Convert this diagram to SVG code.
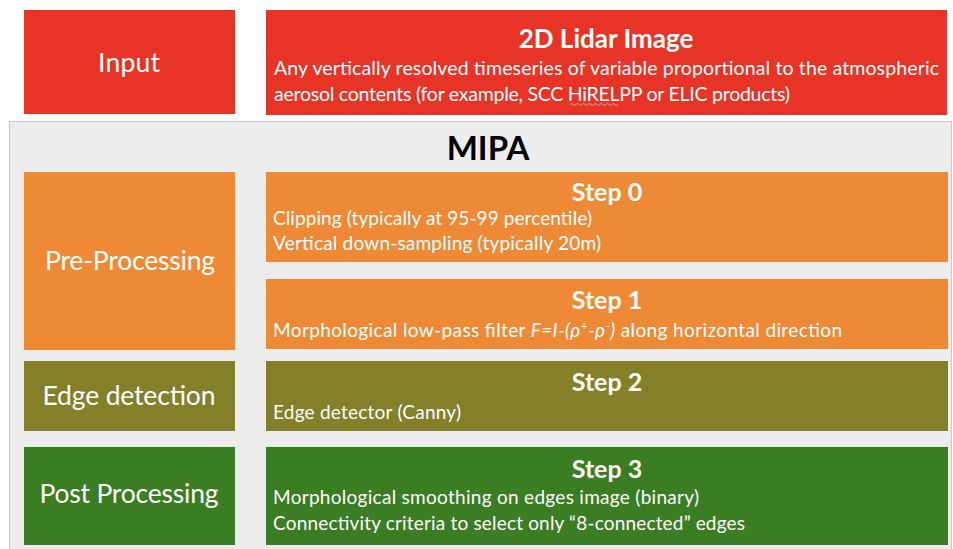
<svg xmlns="http://www.w3.org/2000/svg" width="953" height="549" viewBox="0 0 953 549">
<style>
text{font-family:Lato,"Open Sans","Liberation Sans",sans-serif;fill:#fff}
.lab{font-size:26.5px;text-anchor:middle}
.ttl{font-size:25px;font-weight:bold;text-anchor:middle}
.body{font-size:19px}
.red{fill:#E73426}
.ora{fill:#EE8A35}
.oli{fill:#847F29}
.grn{fill:#3A7D23}
</style>
<rect width="953" height="549" fill="#fff"/>
<g id="input-label"><rect class="red" x="24" y="10" width="211" height="104"/><text class="lab" x="129" y="72" textLength="62">Input</text></g>
<g id="input-desc"><rect class="red" x="266" y="10" width="681" height="105"/>
<text class="ttl" x="606" y="48" style="font-size:26px">2D Lidar Image</text>
<text class="body" x="274" y="75" style="font-size:19.5px" textLength="665">Any vertically resolved timeseries of variable proportional to the atmospheric</text>
<text class="body" x="274" y="101" style="font-size:19.5px" textLength="516">aerosol contents (for example, SCC HiRELPP or ELIC products)</text>
<path d="M570 104.5 q1.5 -2 3 0 t3 0 t3 0 t3 0 t3 0 t3 0 t3 0 t3 0 t3 0 t3 0 t3 0 t3 0 t3 0 t3 0 t3 0 t3 0" fill="none" stroke="#f1a7a0" stroke-width="1"/>
</g>
<g id="mipa"><rect x="9.5" y="121.5" width="942" height="430" fill="#EDEDED" stroke="#C9C9C9" stroke-width="1"/>
<text x="488" y="160" style="font-size:33px;font-weight:bold;fill:#000;text-anchor:middle">MIPA</text></g>
<g id="pre-processing"><rect class="ora" x="24" y="172" width="211" height="178"/><text class="lab" x="130" y="270" textLength="170">Pre-Processing</text></g>
<g id="step0"><rect class="ora" x="266" y="172" width="682" height="90"/>
<text class="ttl" x="607" y="201">Step 0</text>
<text class="body" x="273" y="225" textLength="319">Clipping (typically at 95-99 percentile)</text>
<text class="body" x="273" y="250" textLength="328">Vertical down-sampling (typically 20m)</text></g>
<g id="step1"><rect class="ora" x="266" y="279" width="682" height="70"/>
<text class="ttl" x="607" y="309">Step 1</text>
<text class="body" x="273" y="337" textLength="569">Morphological low-pass filter <tspan font-style="italic">F=I-(ρ</tspan><tspan font-size="12" dy="-7">+</tspan><tspan font-style="italic" dy="7">-ρ</tspan><tspan font-size="12" dy="-7">-</tspan><tspan font-style="italic" dy="7">)</tspan> along horizontal direction</text></g>
<g id="edge-detection"><rect class="oli" x="24" y="361" width="211" height="70"/><text class="lab" x="129" y="405" textLength="173">Edge detection</text></g>
<g id="step2"><rect class="oli" x="266" y="361" width="682" height="70"/>
<text class="ttl" x="607" y="391">Step 2</text>
<text class="body" x="273" y="419" textLength="188">Edge detector (Canny)</text></g>
<g id="post-processing"><rect class="grn" x="24" y="447" width="211" height="98"/><text class="lab" x="129" y="503" textLength="179">Post Processing</text></g>
<g id="step3"><rect class="grn" x="266" y="447" width="682" height="98"/>
<text class="ttl" x="607" y="478">Step 3</text>
<text class="body" x="273" y="504" textLength="426">Morphological smoothing on edges image (binary)</text>
<text class="body" x="273" y="530" textLength="472">Connectivity criteria to select only “8-connected” edges</text></g>
<g id="connectors"/>
</svg>
